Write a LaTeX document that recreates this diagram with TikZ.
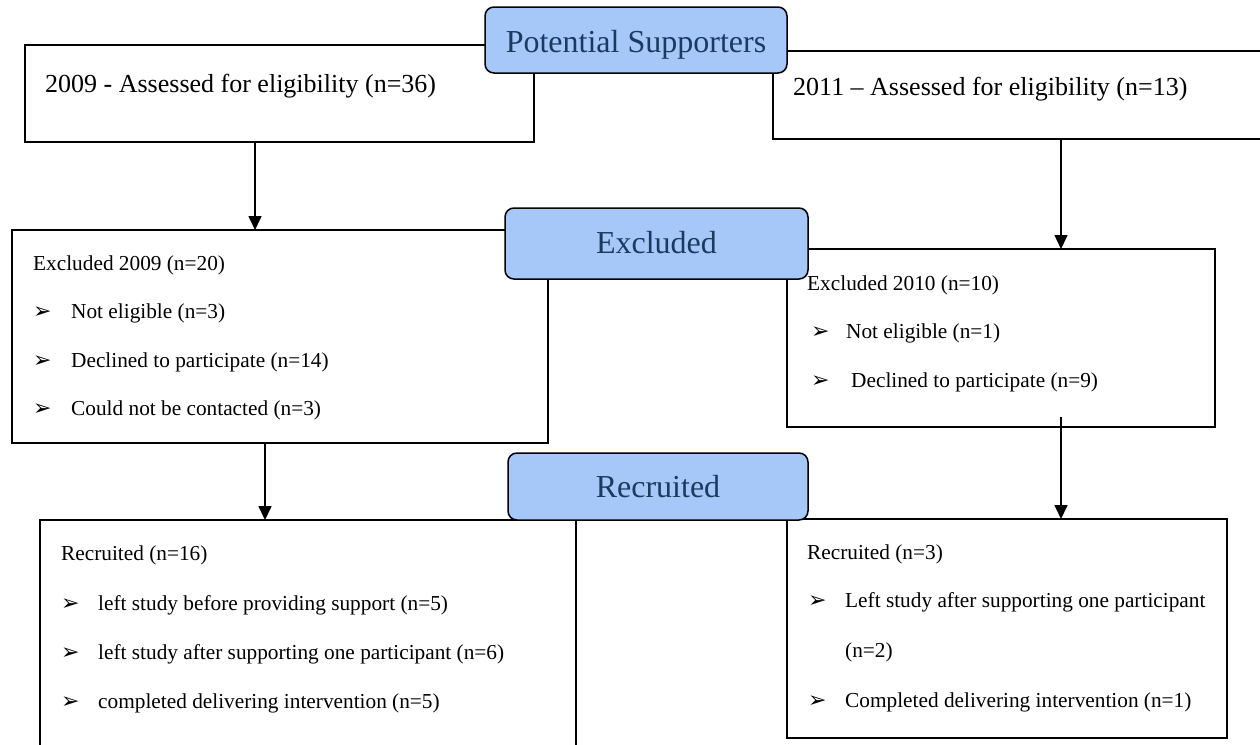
\documentclass[tikz,border=0pt]{standalone}
\usepackage{fontspec}
\setmainfont{Liberation Serif}
\newfontfamily\symfont{DejaVu Sans}
\usetikzlibrary{arrows.meta,calc}
\definecolor{hdrfill}{RGB}{166,200,248}
\definecolor{hdrtext}{RGB}{28,58,95}
\newcommand{\bulmark}{{\symfont\fontsize{22}{22}\selectfont ➢}}
\begin{document}
\begin{tikzpicture}[x=1pt,y=-1pt,
 box/.style={draw=black,line width=1.5pt,fill=white,rectangle,anchor=north west,inner sep=0pt,outer sep=0pt},
 hdr/.style={draw=black,line width=1.5pt,fill=hdrfill,rounded corners=9pt,rectangle,anchor=north west,inner sep=0pt,outer sep=0pt},
 hdrlabel/.style={text=hdrtext,font=\fontsize{32}{36}\selectfont,anchor=base,inner sep=0pt},
 toplabel/.style={font=\fontsize{26}{30}\selectfont,anchor=base west,inner sep=0pt},
 body/.style={font=\fontsize{21.3}{25}\selectfont,anchor=base west,inner sep=0pt},
 bulletmark/.style={anchor=base west,inner sep=0pt},
 arr/.style={line width=1.6pt,-{Triangle[width=13pt,length=14pt]}}]
\useasboundingbox (0,0) rectangle (1260,744);
\clip (0,0) rectangle (1260,744);

% arrow x positions
\coordinate (ax1) at (255,0);
\coordinate (ax2) at (1061,0);
\coordinate (ax3) at (265,0);

% top row
\node[box,minimum width=509pt,minimum height=97pt] (tl) at (25,45) {};
\node[box,minimum width=495pt,minimum height=88pt] (tr) at (773,51) {};
\node[toplabel] (tltext) at (45,92) {2009 - Assessed for eligibility (n=36)};
\node[toplabel] (trtext) at (793,95) {2011 – Assessed for eligibility (n=13)};
\node[hdr,minimum width=302pt,minimum height=66pt] (h1) at (485,7) {};
\node[hdrlabel] (h1text) at (636,52) {Potential Supporters};

% excluded row
\node[box,minimum width=536pt,minimum height=213pt] (exL) at (12,230) {};
\node[box,minimum width=428pt,minimum height=178pt] (exR) at (787,249) {};
\draw[arr] (ax1 |- tl.south) -- (ax1 |- exL.north);
\draw[arr] (ax2 |- tr.south) -- (ax2 |- exR.north);
\node[body] (exLt) at (33,270) {Excluded 2009 (n=20)};
\node[bulletmark] (exLb1) at (33,318) {\bulmark};
\node[body] (exL1) at (71,318) {Not eligible (n=3)};
\node[bulletmark] (exLb2) at (33,367) {\bulmark};
\node[body] (exL2) at (71,367) {Declined to participate (n=14)};
\node[bulletmark] (exLb3) at (33,415) {\bulmark};
\node[body] (exL3) at (71,415) {Could not be contacted (n=3)};
\node[body] (exRt) at (807,290) {Excluded 2010 (n=10)};
\node[bulletmark] (exRb1) at (811,338) {\bulmark};
\node[body] (exR1) at (846,338) {Not eligible (n=1)};
\node[bulletmark] (exRb2) at (811,387) {\bulmark};
\node[body] (exR2) at (851,387) {Declined to participate (n=9)};
\node[hdr,minimum width=303pt,minimum height=71pt] (h2) at (505,208) {};
\node[hdrlabel] (h2text) at (656.5,253) {Excluded};

% recruited row
\node[box,minimum width=536pt,minimum height=240pt] (recL) at (40,520) {};
\node[box,minimum width=440pt,minimum height=219pt] (recR) at (787,519) {};
\draw[arr] (ax3 |- exL.south) -- (ax3 |- recL.north);
\draw[arr] ($(ax2 |- exR.south)+(0,-10)$) -- (ax2 |- recR.north);
\node[body] (recLt) at (61,560) {Recruited (n=16)};
\node[bulletmark] (recLb1) at (61,610) {\bulmark};
\node[body] (recL1) at (98,610) {left study before providing support (n=5)};
\node[bulletmark] (recLb2) at (61,659) {\bulmark};
\node[body] (recL2) at (98,659) {left study after supporting one participant (n=6)};
\node[bulletmark] (recLb3) at (61,708) {\bulmark};
\node[body] (recL3) at (98,708) {completed delivering intervention (n=5)};
\node[body] (recRt) at (807,559) {Recruited (n=3)};
\node[bulletmark] (recRb1) at (808,607) {\bulmark};
\node[body] (recR1) at (845,607) {Left study after supporting one participant};
\node[body] (recR1b) at (845,657) {(n=2)};
\node[bulletmark] (recRb2) at (808,707) {\bulmark};
\node[body] (recR2) at (845,707) {Completed delivering intervention (n=1)};
\node[hdr,minimum width=300pt,minimum height=67pt] (h3) at (508,453) {};
\node[hdrlabel] (h3text) at (658,497) {Recruited};
\end{tikzpicture}
\end{document}
